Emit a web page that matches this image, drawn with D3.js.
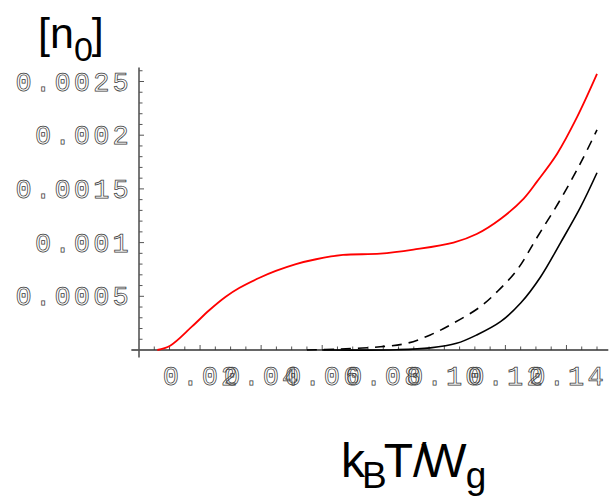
<!DOCTYPE html>
<html><head><meta charset="utf-8">
<script src="https://cdn.jsdelivr.net/npm/d3@7"></script>
<style>
html,body{margin:0;padding:0;background:#fff;}
svg{display:block;}
text{-webkit-font-smoothing:antialiased;}
</style></head>
<body>
<script>
// ---- data ----
const redT   = [0.006, 0.0102, 0.0173, 0.023, 0.0284, 0.0328, 0.0393, 0.0448, 0.0514, 0.058, 0.0668, 0.079, 0.0899, 0.103, 0.1106, 0.1184, 0.126, 0.1304, 0.137, 0.1435, 0.150];
const redN   = [0, 0.00004, 0.000217, 0.00037, 0.000496, 0.000577, 0.00067, 0.000736, 0.0008, 0.000845, 0.000885, 0.000897, 0.000935, 0.001, 0.00108, 0.00122, 0.00141, 0.00157, 0.00183, 0.00217, 0.00257];
const dashT  = [0.055, 0.065, 0.079, 0.0877, 0.0954, 0.103, 0.1118, 0.1173, 0.1238, 0.1304, 0.138, 0.1446, 0.150];
const dashN  = [0, 0.000008, 0.00003, 0.000062, 0.00014, 0.00025, 0.000403, 0.000543, 0.000745, 0.00105, 0.0014, 0.00174, 0.00205];
const solidT = [0.06, 0.0845, 0.0954, 0.104, 0.1106, 0.1184, 0.125, 0.1315, 0.138, 0.1446, 0.150];
const solidN = [0, 0.000003, 0.00002, 0.000062, 0.00014, 0.000264, 0.000437, 0.00068, 0.000996, 0.00133, 0.00165];
const xTickLabels = ["0.02","0.04","0.06","0.08","0.10","0.12","0.14"];
const xTickValues = [0.02,0.04,0.06,0.08,0.10,0.12,0.14];
const yTickLabels = ["0.0005","0.001","0.0015","0.002","0.0025"];
const yTickValues = [0.0005,0.001,0.0015,0.002,0.0025];

const W = 610, H = 496;
const svg = d3.select("body").append("svg").attr("width", W).attr("height", H);

const x = d3.scaleLinear().domain([0, 0.15]).range([139, 597]);
const y = d3.scaleLinear().domain([0, 0.0025]).range([350, 81.5]);

const axisColor = "#555";
const labelStyle = sel => sel
  .attr("font-family", "'Liberation Mono','Courier New',monospace")
  .attr("font-size", 27).attr("letter-spacing", 3.2)
  .attr("fill", "none").attr("stroke", "#3a3a3a").attr("stroke-width", 0.75);

// minor ticks
const xMinor = d3.range(1, 31).map(i => i * 0.005);
svg.append("g").selectAll("line").data(xMinor).join("line")
  .attr("x1", d => x(d)).attr("x2", d => x(d))
  .attr("y1", y(0)).attr("y2", d => y(0) - (Math.abs((d / 0.02) - Math.round(d / 0.02)) < 1e-6 ? 5 : 3.5))
  .attr("stroke", axisColor).attr("stroke-width", 1);
const yMinor = d3.range(1, 27).map(i => i * 0.0001);
svg.append("g").selectAll("line").data(yMinor).join("line")
  .attr("y1", d => y(d)).attr("y2", d => y(d))
  .attr("x1", x(0)).attr("x2", d => x(0) + (Math.abs((d / 0.0005) - Math.round(d / 0.0005)) < 1e-6 ? 5 : 3.5))
  .attr("stroke", axisColor).attr("stroke-width", 1);

// axis lines
svg.append("line").attr("x1", x(-0.0025)).attr("x2", x(0.1537)).attr("y1", y(0)).attr("y2", y(0))
  .attr("stroke", "#333").attr("stroke-width", 1.6);
svg.append("line").attr("x1", x(0)).attr("x2", x(0)).attr("y1", y(-0.00007)).attr("y2", y(0.00263))
  .attr("stroke", axisColor).attr("stroke-width", 1.6);

// tick labels
svg.append("g").selectAll("text").data(xTickValues).join("text")
  .attr("x", d => x(d) + 1.6).attr("y", 385).attr("text-anchor", "middle")
  .text((d, i) => xTickLabels[i]).call(labelStyle);
svg.append("g").selectAll("text").data(yTickValues).join("text")
  .attr("x", 132).attr("y", d => y(d) + 9).attr("text-anchor", "end")
  .text((d, i) => yTickLabels[i]).call(labelStyle);

// curves
const line = d3.line().x(d => x(d[0])).y(d => y(d[1])).curve(d3.curveCatmullRom.alpha(0.5));
svg.append("path").datum(solidT.map((t, i) => [t, solidN[i]]))
  .attr("d", line).attr("fill", "none").attr("stroke", "#000").attr("stroke-width", 1.6);
svg.append("path").datum(dashT.map((t, i) => [t, dashN[i]]))
  .attr("d", line).attr("fill", "none").attr("stroke", "#000").attr("stroke-width", 1.6)
  .attr("stroke-dasharray", "10,7");
svg.append("path").datum(redT.map((t, i) => [t, redN[i]]))
  .attr("d", line).attr("fill", "none").attr("stroke", "#f00").attr("stroke-width", 1.8);

// y title [n0]
const yt = svg.append("text").attr("x", 38).attr("y", 48)
  .attr("font-family", "'Liberation Sans',Arial,sans-serif").attr("font-size", 43).attr("fill", "#000");
yt.append("tspan").text("[n");
yt.append("tspan").attr("font-size", 34).attr("dy", 13).text("0");
yt.append("tspan").attr("dy", -13).attr("dx", -1).text("]");

// x title kBT/Wg
const xt = svg.append("text").attr("x", 341).attr("y", 477)
  .attr("font-family", "'Liberation Sans',Arial,sans-serif").attr("font-size", 48).attr("fill", "#000");
xt.append("tspan").text("k");
xt.append("tspan").attr("font-size", 37).attr("dy", 11).attr("dx", -3).text("B");
xt.append("tspan").attr("dy", -11).attr("dx", -3).text("T/");
xt.append("tspan").attr("dx", -5).text("W");
xt.append("tspan").attr("font-size", 37).attr("dy", 11).attr("dx", -1).text("g");
</script>
</body></html>
